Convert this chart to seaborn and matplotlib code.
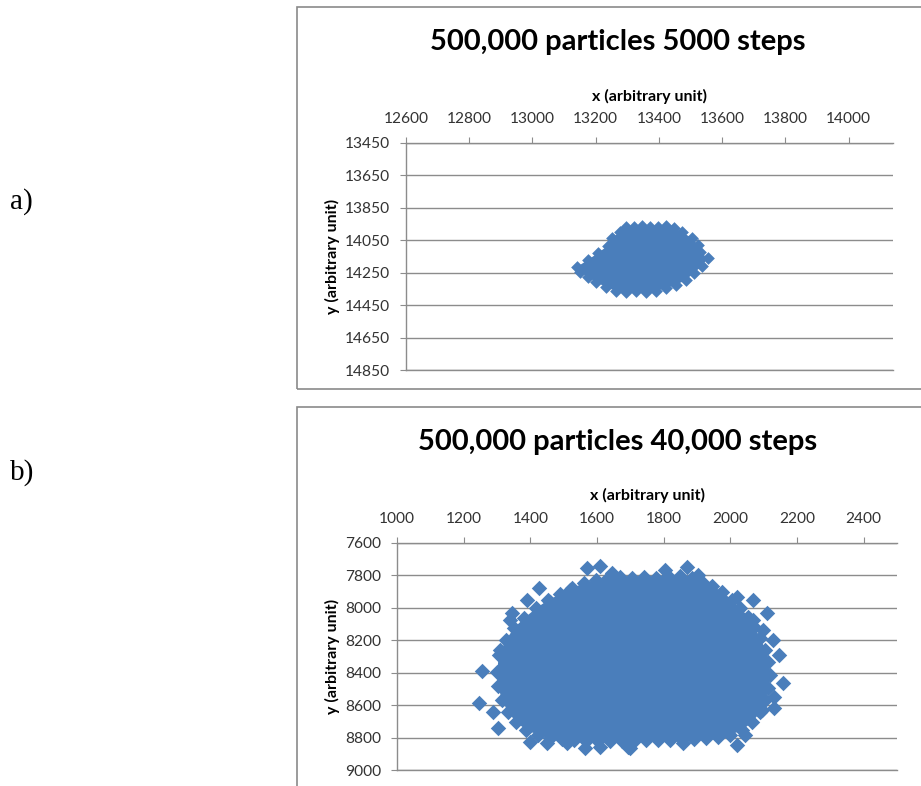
import matplotlib
matplotlib.use("Agg")
import matplotlib.pyplot as plt
import matplotlib.patches as mpatches
import seaborn as sns
import pandas as pd

# ---------------- data ----------------
titles = ["500,000 particles 5000 steps", "500,000 particles 40,000 steps"]
panel_labels = ["a)", "b)"]
x_label = "x (arbitrary unit)"
y_label = "y (arbitrary unit)"

a_xticks = [12600, 12800, 13000, 13200, 13400, 13600, 13800, 14000]
a_yticks = [13450, 13650, 13850, 14050, 14250, 14450, 14650, 14850]
b_xticks = [1000, 1200, 1400, 1600, 1800, 2000, 2200, 2400]
b_yticks = [7600, 7800, 8000, 8200, 8400, 8600, 8800, 9000]

# panel a: outermost particles around the (solid) cloud
a_edge_x = [13140, 13175, 13207, 13238, 13251, 13276, 13295, 13321, 13346, 13371,
            13396, 13422, 13447, 13472, 13504, 13523, 13529, 13554, 13536, 13510,
            13485, 13453, 13422, 13390, 13359, 13327, 13295, 13264, 13232, 13200,
            13175, 13150]
a_edge_y = [14215, 14172, 14128, 14085, 14036, 13999, 13968, 13968, 13962, 13968,
            13968, 13962, 13974, 13999, 14036, 14079, 14122, 14159, 14209, 14252,
            14295, 14326, 14344, 14363, 14369, 14363, 14369, 14363, 14338, 14307,
            14276, 14246]

# panel b: outermost particles of the dense cloud
b_edge_x = [1300, 1306, 1327, 1351, 1382, 1418, 1454, 1490, 1526, 1562,
            1598, 1634, 1670, 1706, 1742, 1778, 1814, 1850, 1886, 1916,
            1946, 1976, 2006, 2030, 2054, 2072, 2090, 2105, 2114, 2120,
            2114, 2105, 2090, 2066, 2036, 2000, 1964, 1928, 1892, 1856,
            1820, 1784, 1748, 1712, 1676, 1640, 1604, 1568, 1532, 1496,
            1460, 1424, 1388, 1357, 1333, 1315, 1303]
b_edge_y = [8396, 8291, 8198, 8124, 8063, 8001, 7952, 7915, 7878, 7847,
            7828, 7816, 7810, 7816, 7810, 7816, 7804, 7804, 7816, 7841,
            7865, 7902, 7952, 8001, 8056, 8118, 8186, 8260, 8334, 8414,
            8494, 8568, 8642, 8704, 8753, 8784, 8796, 8803, 8809, 8809,
            8815, 8815, 8815, 8821, 8821, 8821, 8821, 8821, 8815, 8809,
            8803, 8784, 8753, 8704, 8642, 8568, 8482]

# panel b: isolated particles outside the dense cloud
b_out_x = [1571, 1610, 1646, 1427, 1391, 1345, 1339, 1520, 1460, 1309,
           1255, 1246, 1288, 1303, 1400, 1451, 1511, 1565, 1610, 1694,
           1805, 1871, 1904, 2021, 2069, 2111, 2145, 2157, 2130, 2130,
           2096, 2045, 2021, 1859, 1700, 2069, 2099, 2127]
b_out_y = [7754, 7742, 7785, 7878, 7952, 8032, 8075, 7890, 7964, 8260,
           8389, 8587, 8642, 8741, 8827, 8833, 8833, 8864, 8858, 8858,
           7767, 7748, 7797, 7933, 7952, 8032, 8291, 8463, 8550, 8618,
           8630, 8784, 8846, 8833, 8864, 8075, 8137, 8198]

# ---------------- style ----------------
sns.set_style("white")
plt.rcParams["font.family"] = ["Lato", "DejaVu Sans"]

BLUE = "#4A7EBB"
GRID = "#8C8C8C"
TICKC = "#333333"
MS_A = 42
MS_B = 62

fig = plt.figure(figsize=(9.21, 7.86), dpi=100)
W, H = 921.0, 786.0


def fx(px):
    return px / W


def fy(py):
    return 1 - py / H


# chart frames
for top, bot in [(7, 389), (407, 800)]:
    fig.patches.append(mpatches.Rectangle((fx(297), fy(bot)), fx(940) - fx(297),
                                          fy(top) - fy(bot), transform=fig.transFigure,
                                          fill=False, edgecolor="#8A8A8A", lw=1.2))

panels = [
    dict(rect=(406, 893, 143, 370), xlim=(12600, 14140), xt=a_xticks, yt=a_yticks,
         edge=(a_edge_x, a_edge_y), out=None, title_y=42, lab_y=202, ms=MS_A),
    dict(rect=(397, 897, 543, 770), xlim=(1000, 2500), xt=b_xticks, yt=b_yticks,
         edge=(b_edge_x, b_edge_y), out=(b_out_x, b_out_y), title_y=442, lab_y=473,
         ms=MS_B),
]

for i, p in enumerate(panels):
    l, r, t, b = p["rect"]
    ax = fig.add_axes([fx(l), fy(b), fx(r) - fx(l), fy(t) - fy(b)])
    ax.set_xlim(*p["xlim"])
    ax.set_ylim(p["yt"][-1], p["yt"][0])
    ax.set_xticks(p["xt"])
    ax.set_yticks(p["yt"])
    ax.xaxis.tick_top()
    ax.xaxis.set_label_position("top")
    ax.grid(axis="y", color=GRID, lw=1.0)
    ax.grid(axis="x", visible=False)
    ax.set_axisbelow(True)
    for s in ["top", "left", "bottom"]:
        ax.spines[s].set_color(GRID)
        ax.spines[s].set_linewidth(1.0)
    ax.spines["right"].set_visible(False)
    ax.tick_params(axis="x", which="both", top=True, bottom=False, direction="out",
                   length=4.5, width=0.8, color=GRID, pad=8, labelsize=11.2,
                   labelcolor=TICKC)
    ax.tick_params(axis="y", left=True, direction="out", length=4.5, width=0.8,
                   color=GRID, pad=7, labelsize=11.2, labelcolor=TICKC)

    ex, ey = p["edge"]
    ax.fill(ex, ey, color=BLUE, lw=0, zorder=2)
    df = pd.DataFrame({"x": ex, "y": ey})
    sns.scatterplot(data=df, x="x", y="y", ax=ax, marker="D", s=p["ms"], color=BLUE,
                    linewidth=0, zorder=3, legend=False)
    if p["out"] is not None:
        ox, oy = p["out"]
        dfo = pd.DataFrame({"x": ox, "y": oy})
        sns.scatterplot(data=dfo, x="x", y="y", ax=ax, marker="D", s=p["ms"],
                        color=BLUE, linewidth=0, zorder=3, legend=False)

    ax.set_xlabel(x_label, fontsize=11.5, fontweight="bold", color="black")
    ax.set_ylabel(y_label, fontsize=11.5, fontweight="bold", color="black")
    ax.xaxis.set_label_coords(0.5, 1 + (t - (96 if i == 0 else 495)) / (b - t))
    ax.xaxis.label.set_verticalalignment("center")
    ax.yaxis.set_label_coords((332 - l) / (r - l), 0.5)
    ax.yaxis.label.set_verticalalignment("center")

    fig.text(fx(618), fy(p["title_y"]), titles[i], ha="center", va="center",
             fontsize=21, fontweight="bold", color="black")
    fig.text(fx(10), fy(p["lab_y"]), panel_labels[i], ha="left", va="center",
             fontsize=21, family=["Liberation Serif", "DejaVu Serif"], color="black")

fig.savefig("out.png", dpi=100)
